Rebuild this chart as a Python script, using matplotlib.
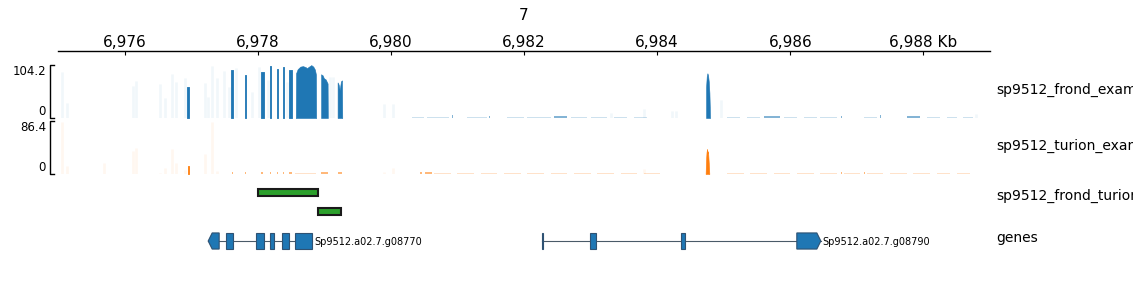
import matplotlib
matplotlib.use('Agg')
import matplotlib.pyplot as plt
import matplotlib.transforms as mtransforms
from matplotlib.patches import Polygon, Rectangle

# region shown (kb on chromosome 7)
chrom = '7'
region = [6975.0, 6989.0]
tick_kb = [6976, 6978, 6980, 6982, 6984, 6986, 6988]
tick_labels = ['6,976', '6,978', '6,980', '6,982', '6,984', '6,986', '6,988 Kb']
track_names = ['sp9512_frond_example', 'sp9512_turion_example',
               'sp9512_frond_turion_diff', 'genes']

# ---- frond coverage ----
frond_max = 104.2
frond_start = [6976.945, 6977.605, 6977.803, 6978.045, 6978.180, 6978.288, 6978.375, 6978.468]
frond_end = [6976.962, 6977.625, 6977.822, 6978.088, 6978.205, 6978.310, 6978.393, 6978.522]
frond_height = [61, 94, 85, 90, 102, 96, 100, 94]
# shaped regions (x in kb, value), each one starts and ends at 0
frond_prof_x = [6978.572, 6978.576, 6978.60, 6978.64, 6978.68, 6978.72, 6978.74, 6978.77, 6978.805, 6978.835, 6978.86, 6978.875, 6978.878,
                6978.948, 6978.952, 6978.975, 6978.995, 6979.02, 6979.05, 6979.053,
                6979.195, 6979.20, 6979.215, 6979.232, 6979.25, 6979.266, 6979.27,
                6984.725, 6984.735, 6984.745, 6984.755, 6984.765, 6984.775, 6984.785, 6984.79, 6984.795]
frond_prof_y = [0, 88, 96, 101, 102, 100, 98, 101, 104, 101, 95, 85, 0,
                0, 86, 84, 78, 76, 68, 0,
                0, 70, 66, 55, 72, 74, 0,
                0, 60, 82, 88, 84, 72, 50, 25, 0]
# very narrow spikes (render faint)
frond_pale_pos = [6975.06, 6975.135, 6976.128, 6976.173, 6976.534, 6976.609, 6976.714, 6976.774, 6976.910,
                  6977.211, 6977.256, 6977.316, 6977.391, 6977.496, 6977.571, 6977.677, 6977.917, 6978.023,
                  6978.158, 6978.444, 6979.090, 6979.135, 6979.902, 6980.038, 6983.30, 6983.80, 6984.23,
                  6984.28, 6984.955, 6988.79]
frond_pale_val = [90, 29, 63, 73, 67, 39, 86, 71, 79, 69, 41, 102, 79, 92, 61, 98, 51, 100,
                  75, 71, 80, 80, 28, 28, 10, 17, 13, 13, 36, 8]
# low background signal
frond_low_start = [6980.32, 6980.55, 6980.915, 6981.15, 6981.48, 6981.75, 6982.05, 6982.45, 6982.70, 6983.00,
                   6983.35, 6983.65, 6985.05, 6985.35, 6985.60, 6985.90, 6986.20, 6986.45, 6986.755, 6987.10,
                   6987.355, 6987.75, 6988.05, 6988.35, 6988.60]
frond_low_end = [6980.50, 6980.88, 6980.93, 6981.45, 6981.495, 6982.00, 6982.40, 6982.65, 6982.95, 6983.25,
                 6983.55, 6983.85, 6985.25, 6985.55, 6985.85, 6986.10, 6986.40, 6986.70, 6986.77, 6987.30,
                 6987.37, 6987.95, 6988.25, 6988.50, 6988.75]
frond_low_val = [2, 2, 5, 2, 4, 2, 2, 3, 2, 2, 2, 2, 2, 2, 3, 2, 2, 2, 4, 2, 5, 3, 2, 2, 2]

# ---- turion coverage ----
turion_max = 86.4
turion_start = [6976.948]
turion_end = [6976.962]
turion_height = [13]
turion_prof_x = [6984.728, 6984.734, 6984.742, 6984.750, 6984.758, 6984.765, 6984.772, 6984.78, 6984.784]
turion_prof_y = [0, 22, 36, 41, 34, 37, 24, 10, 0]
turion_pale_pos = [6975.06, 6975.135, 6975.692, 6976.128, 6976.173, 6976.534, 6976.609, 6976.714, 6976.774,
                   6976.910, 6977.211, 6977.316, 6977.391, 6979.902, 6980.038, 6983.80]
turion_pale_val = [85, 13, 18, 38, 43, 2, 10, 40, 18, 6, 32, 85, 5, 3, 10, 8]
turion_low_start = [6977.608, 6977.805, 6978.048, 6978.185, 6978.292, 6978.378, 6978.47, 6978.56, 6978.95, 6979.20,
                    6980.44, 6980.52, 6980.65, 6981.00, 6981.35, 6981.70, 6982.05, 6982.40, 6982.75, 6983.10,
                    6983.45, 6983.80, 6985.05, 6985.40, 6985.75, 6986.10, 6986.45, 6986.76, 6986.80, 6987.10,
                    6987.15, 6987.50, 6987.85, 6988.20, 6988.50]
turion_low_end = [6977.622, 6977.82, 6978.085, 6978.20, 6978.305, 6978.39, 6978.52, 6978.88, 6979.05, 6979.27,
                  6980.47, 6980.62, 6980.90, 6981.25, 6981.60, 6981.95, 6982.30, 6982.65, 6983.00, 6983.35,
                  6983.70, 6984.05, 6985.30, 6985.65, 6986.00, 6986.35, 6986.70, 6986.78, 6987.05, 6987.12,
                  6987.40, 6987.75, 6988.10, 6988.40, 6988.70]
turion_low_val = [3, 3, 4, 4, 3, 3, 3, 2, 3, 3, 4, 3, 2, 2, 2, 2, 2, 2, 2, 2,
                  2, 2, 2, 2, 2, 2, 2, 4, 2, 3, 2, 2, 2, 2, 2]

# ---- bed intervals ----
bed_start = [6978.008, 6978.910]
bed_end = [6978.910, 6979.256]

# ---- genes ----
gene_names = ['Sp9512.a02.7.g08770', 'Sp9512.a02.7.g08790']
gene_strand = ['-', '+']
gene_exon_start = [[6977.256, 6977.526, 6977.977, 6978.188, 6978.368, 6978.564],
                   [6982.263, 6982.985, 6984.353, 6986.098]]
gene_exon_end = [[6977.421, 6977.632, 6978.098, 6978.248, 6978.474, 6978.820],
                 [6982.285, 6983.075, 6984.414, 6986.459]]

blue = '#1f77b4'
orange = '#ff7f0e'
green = '#2ca02c'

W_PX, H_PX = 1133, 297
L = 58 / W_PX
W = 932 / W_PX


def box(top, bottom):
    return [L, 1 - bottom / H_PX, W, (bottom - top) / H_PX]


fig = plt.figure(figsize=(W_PX / 100, H_PX / 100), dpi=100)

# x axis track
ax_x = fig.add_axes(box(50, 51))
ax_x.set_xlim(region)
for s in ['top', 'left', 'right']:
    ax_x.spines[s].set_visible(False)
ax_x.spines['bottom'].set_linewidth(1)
ax_x.set_yticks([])
ax_x.set_xticks(tick_kb)
ax_x.set_xticklabels(tick_labels)
ax_x.tick_params(axis='x', bottom=True, top=False, labelbottom=False, labeltop=True,
                 direction='out', length=3, labelsize=11, pad=-3)
fig.text(0.5 * (58 + 990) / W_PX, 1 - 16 / H_PX, chrom, ha='center', va='center', fontsize=11)


def coverage(ax, color, ymax, starts, ends, heights, px, py, pale_pos, pale_val, low_s, low_e, low_v):
    ax.set_xlim(region)
    ax.set_ylim(0, ymax)
    ax.axis('off')
    ax.vlines(pale_pos, 0, pale_val, color=color, alpha=0.06, lw=2)
    for s, e, v in zip(low_s, low_e, low_v):
        a = 0.55 if v >= 3 else 0.22
        ax.fill_between([s, e], 0, v, color=color, alpha=a, lw=0)
    for s, e, v in zip(starts, ends, heights):
        ax.fill_between([s, e], 0, v, color=color, lw=0.6, edgecolor=color)
    # split the profile into its separate zero-bounded pieces
    i0 = 0
    for i in range(1, len(px)):
        if py[i] == 0:
            ax.fill_between(px[i0:i + 1], 0, py[i0:i + 1], color=color, lw=0.4, edgecolor=color)
            i0 = i + 1
    # bracket style y axis
    tr = mtransforms.blended_transform_factory(ax.transAxes, ax.transData)
    ax.plot([-0.0040, -0.0086, -0.0086, -0.0040], [ymax, ymax, 0, 0], transform=tr,
            color='black', lw=1, clip_on=False)
    ax.text(-0.013, ymax, f'{ymax:g}', transform=tr, ha='right', va='top', fontsize=8.5)
    ax.text(-0.013, 0, '0', transform=tr, ha='right', va='bottom', fontsize=8.5)


ax1 = fig.add_axes(box(65, 118))
coverage(ax1, blue, frond_max, frond_start, frond_end, frond_height, frond_prof_x, frond_prof_y,
         frond_pale_pos, frond_pale_val, frond_low_start, frond_low_end, frond_low_val)
ax2 = fig.add_axes(box(121, 174))
coverage(ax2, orange, turion_max, turion_start, turion_end, turion_height, turion_prof_x, turion_prof_y,
         turion_pale_pos, turion_pale_val, turion_low_start, turion_low_end, turion_low_val)

# bed track: stack touching/overlapping intervals into rows
ax3 = fig.add_axes(box(183, 221))
ax3.set_xlim(region)
ax3.set_ylim(1.5, -0.5)
ax3.axis('off')
row_end = []
for s, e in zip(bed_start, bed_end):
    row = 0
    while row < len(row_end) and s <= row_end[row]:
        row += 1
    if row == len(row_end):
        row_end.append(e)
    else:
        row_end[row] = e
    ax3.add_patch(Rectangle((s, row - 0.21), e - s, 0.42, facecolor=green,
                            edgecolor='#1a1a1a', lw=1.5))

# gene track
ax4 = fig.add_axes(box(228, 254))
ax4.set_xlim(region)
ax4.set_ylim(-1, 1)
ax4.axis('off')
h = 0.62
arrow = 0.06
for name, strand, ss, ee in zip(gene_names, gene_strand, gene_exon_start, gene_exon_end):
    g0, g1 = min(ss), max(ee)
    ax4.plot([g0, g1], [0, 0], color='#4a5a68', lw=0.8, zorder=1)
    for i, (s, e) in enumerate(zip(ss, ee)):
        if strand == '-' and i == 0:
            pts = [(s, 0), (s + arrow, h), (e, h), (e, -h), (s + arrow, -h)]
        elif strand == '+' and i == len(ss) - 1:
            pts = [(s, -h), (s, h), (e - arrow, h), (e, 0), (e - arrow, -h)]
        else:
            pts = [(s, -h), (s, h), (e, h), (e, -h)]
        ax4.add_patch(Polygon(pts, closed=True, facecolor=blue, edgecolor='#2f5273', lw=0.8, zorder=2))
    ax4.text(g1 + 0.03, -0.05, name, va='center', ha='left', fontsize=7)

# track labels (cut at the right edge, as in the source figure)
for name, yc in zip(track_names, [90, 146, 196, 238]):
    fig.text(996 / W_PX, 1 - yc / H_PX, name, va='center', ha='left', fontsize=10)

fig.savefig('out.png', dpi=100)
